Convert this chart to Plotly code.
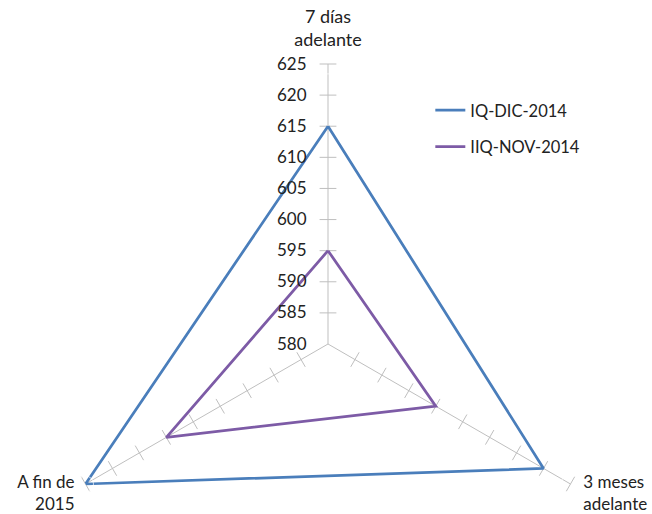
import plotly.graph_objects as go

# Horizons of the exchange-rate survey and the two survey rounds
categorias = ["7 días adelante", "3 meses adelante", "A fin de 2015"]
etiquetas = ["7 días<br>adelante", "\u00a0<br>3 meses<br>adelante", "\u00a0<br>A fin de<br>2015"]
iq_dic_2014 = [615, 620, 625]
iiq_nov_2014 = [595, 600, 610]
valores_eje = [580, 585, 590, 595, 600, 605, 610, 615, 620, 625]

azul = "#4A7EBB"
morado = "#7D5BA6"
gris = "#BFBFBF"
texto = "#222222"
fuente = "Lato, 'Open Sans', Arial, sans-serif"

ALTO = 630  # figure height; the radar circle reaches below the visible band


def cerrar(lista):
    return list(lista) + [lista[0]]


fig = go.Figure()

# Small cross marks along every spoke (one per radial step)
marcas_r, marcas_t, marcas_ang = [], [], []
for cat, ang in zip(categorias, [90, 30, -30]):
    for v in valores_eje[1:]:
        marcas_r.append(v)
        marcas_t.append(cat)
        marcas_ang.append(ang)

fig.add_trace(go.Scatterpolar(
    r=marcas_r, theta=marcas_t, mode="markers",
    marker=dict(symbol="line-ns", size=12, angle=marcas_ang,
                line=dict(color=gris, width=1)),
    showlegend=False, hoverinfo="skip",
))

fig.add_trace(go.Scatterpolar(
    r=cerrar(iq_dic_2014), theta=cerrar(categorias), mode="lines",
    name="IQ-DIC-2014", legendgroup="a",
    line=dict(color=azul, width=2.75),
))
fig.add_trace(go.Scatterpolar(
    r=cerrar(iiq_nov_2014), theta=cerrar(categorias), mode="lines",
    name="IIQ-NOV-2014", legendgroup="b",
    line=dict(color=morado, width=2.75),
))

# Category names at the outer end of each spoke; the invisible marker
# sizes set how far each name sits from its spoke
fig.add_trace(go.Scatterpolar(
    r=[valores_eje[-1]] * 3, theta=categorias, mode="markers+text",
    text=etiquetas,
    textposition=["top center", "middle right", "middle left"],
    marker=dict(size=[20, 19, 16], color="rgba(0,0,0,0)"),
    textfont=dict(size=[18, 17, 17], family=fuente, color=texto),
    showlegend=False, hoverinfo="skip", cliponaxis=False,
))

fig.update_layout(
    width=652, height=ALTO,
    margin=dict(l=0, r=0, t=0, b=0),
    paper_bgcolor="white",
    font=dict(family=fuente, size=16, color=texto),
    polar=dict(
        domain=dict(x=[48 / 652, 608 / 652],
                    y=[(ALTO - 624) / ALTO, (ALTO - 64) / ALTO]),
        bgcolor="rgba(0,0,0,0)",
        angularaxis=dict(
            type="category", rotation=90, direction="clockwise",
            showline=False, ticks="", showgrid=True, showticklabels=False,
            gridcolor=gris, gridwidth=1,
        ),
        radialaxis=dict(
            range=[580, 625], angle=90, side="counterclockwise",
            tickvals=valores_eje, showgrid=False, showline=False,
            ticks="outside", ticklen=15, tickcolor="rgba(0,0,0,0)",
            tickangle=90,
            tickfont=dict(size=17, family=fuente, color=texto),
        ),
    ),
    legend=dict(
        x=0.66, y=1 - 93 / ALTO, xanchor="left", yanchor="top",
        font=dict(size=16.5, family=fuente, color=texto),
        tracegroupgap=12, bgcolor="rgba(0,0,0,0)",
    ),
)

fig.write_html("out.html")
